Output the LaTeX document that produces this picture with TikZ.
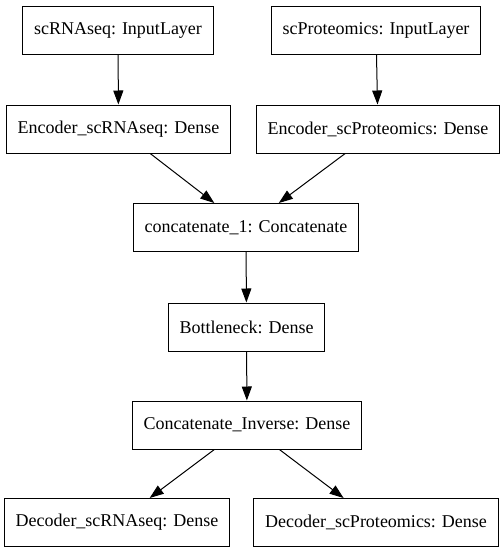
\documentclass[tikz,border=0pt]{standalone}
\usepackage{fontspec}
\setmainfont{Liberation Serif}
\usetikzlibrary{arrows.meta}

\begin{document}
\begin{tikzpicture}[x=1pt, y=-1pt, line width=1pt, >={Triangle[length=14pt,width=10pt]}]
\tikzstyle{every node} = [draw, font=\fontsize{18}{20}\selectfont, inner xsep=11.5pt, minimum height=48pt]
\useasboundingbox (0,0) rectangle (503,555);
\node (inRNA) at (118, 30.5) {scRNAseq: InputLayer};
\node (inProt) at (376, 30.5) {scProteomics: InputLayer};
\node (encRNA) at (118.5, 129) {Encoder\_scRNAseq: Dense};
\node (encProt) at (378, 129) {Encoder\_scProteomics: Dense};
\node (concat) at (246, 227.5) {concatenate\_1: Concatenate};
\node (bottle) at (246.5, 327) {Bottleneck: Dense};
\node (inverse) at (247, 425) {Concatenate\_Inverse: Dense};
\node (decRNA) at (117, 522.5) {Decoder\_scRNAseq: Dense};
\node (decProt) at (376, 522.5) {Decoder\_scProteomics: Dense};
\foreach \from/\to in {inRNA/encRNA, inProt/encProt, encRNA/concat, encProt/concat, concat/bottle, bottle/inverse, inverse/decRNA, inverse/decProt}
\draw [->] (\from) -- (\to);
\end{tikzpicture}
\end{document}
